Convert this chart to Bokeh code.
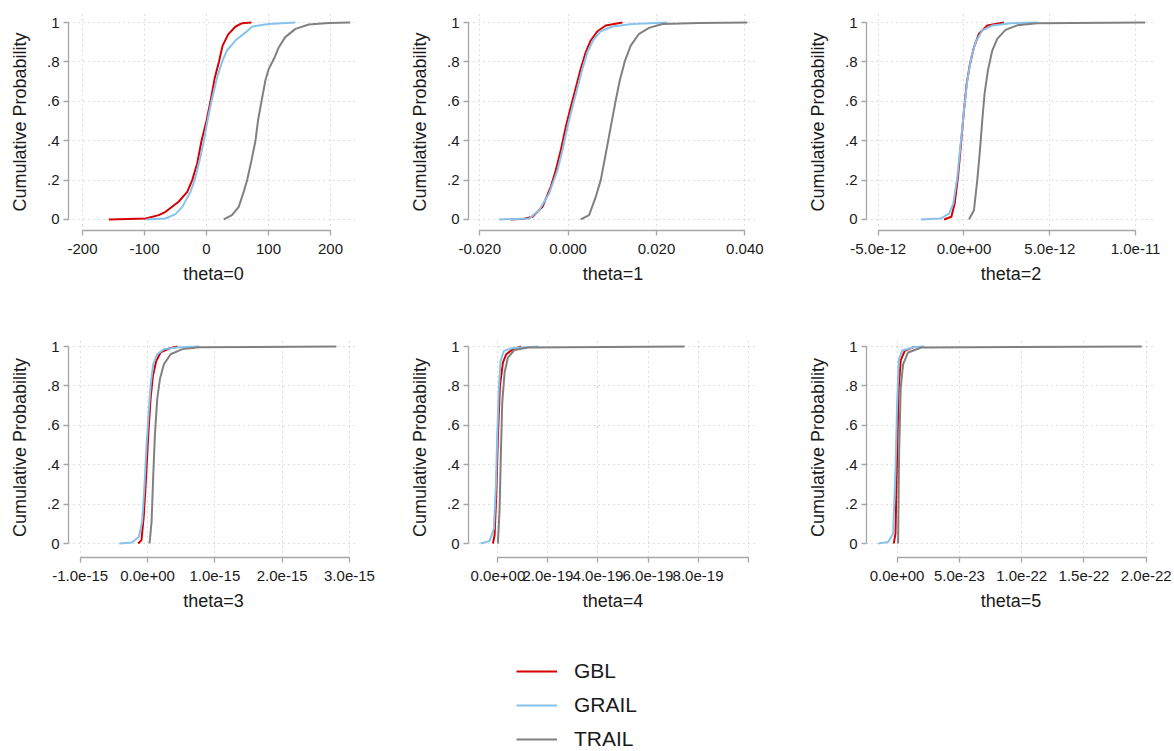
from bokeh.plotting import figure
from bokeh.models import Range1d, FixedTicker, Legend, LegendItem
from bokeh.layouts import column, row
from bokeh.embed import file_html
from bokeh.resources import INLINE

# ---------------- data ----------------
series_names = ["GBL", "GRAIL", "TRAIL"]
panel_titles = ["theta=0", "theta=1", "theta=2", "theta=3", "theta=4", "theta=5"]

# theta=0
gbl_x0 = [-157.5, -98, -77, -66, -45, -31, -23, -15, -8, 0, 6.5, 13.4, 20, 26, 35, 47, 57.5, 72.6]
gbl_p0 = [0, 0.005, 0.022, 0.039, 0.09, 0.14, 0.2, 0.284, 0.4, 0.5, 0.6, 0.72, 0.8, 0.883, 0.94, 0.98, 0.997, 1]
grail_x0 = [-97, -66, -50, -39, -26, -19, -9.7, -4.3, 2.7, 8, 17, 25, 33, 47, 63, 74, 100, 143.5]
grail_p0 = [0, 0.005, 0.027, 0.064, 0.14, 0.2, 0.318, 0.4, 0.52, 0.6, 0.72, 0.8, 0.858, 0.91, 0.95, 0.98, 0.993, 1]
trail_x0 = [28, 41, 52, 60, 65.6, 72.6, 79, 83, 88.7, 95, 100.5, 110, 116.7, 127, 143.5, 165, 197, 232]
trail_p0 = [0, 0.022, 0.064, 0.14, 0.2, 0.3, 0.4, 0.5, 0.6, 0.706, 0.765, 0.824, 0.875, 0.926, 0.968, 0.99, 0.998, 1]

# theta=1
gbl_x1 = [-0.013, -0.00995, -0.00807, -0.0058, -0.00392, -0.00279, -0.00166, -0.00053, 0.0006, 0.00158,
          0.00286, 0.004, 0.00513, 0.00663, 0.00852, 0.01229]
gbl_p1 = [0, 0.004, 0.014, 0.064, 0.166, 0.25, 0.351, 0.47, 0.571, 0.655, 0.765, 0.85, 0.909, 0.956, 0.985, 1]
grail_x1 = [-0.0156, -0.00882, -0.00656, -0.0043, -0.00241, -0.00128, -0.00015, 0.00098, 0.00196, 0.00324,
            0.00437, 0.00565, 0.00739, 0.01003, 0.01455, 0.02247]
grail_p1 = [0, 0.005, 0.047, 0.132, 0.25, 0.351, 0.47, 0.571, 0.655, 0.765, 0.85, 0.909, 0.956, 0.98, 0.993, 1]
trail_x1 = [0.00286, 0.00475, 0.00626, 0.00739, 0.00852, 0.00965, 0.01078, 0.01169, 0.01289, 0.01417,
            0.01606, 0.01832, 0.02134, 0.02963, 0.04056]
trail_p1 = [0, 0.022, 0.115, 0.2, 0.334, 0.47, 0.605, 0.706, 0.807, 0.883, 0.943, 0.973, 0.993, 0.998, 1]

# theta=2
gbl_x2 = [-1.163e-12, -0.736e-12, -0.543e-12, -0.349e-12, -0.155e-12, 0, 0.155e-12, 0.349e-12,
          0.581e-12, 0.872e-12, 1.357e-12, 2.326e-12]
gbl_p2 = [0, 0.014, 0.081, 0.216, 0.402, 0.554, 0.689, 0.79, 0.875, 0.943, 0.985, 1]
grail_x2 = [-2.52e-12, -1.357e-12, -0.872e-12, -0.62e-12, -0.388e-12, -0.174e-12, 0, 0.194e-12,
            0.426e-12, 0.678e-12, 1.066e-12, 1.647e-12, 2.713e-12, 4.26e-12]
grail_p2 = [0, 0.005, 0.03, 0.081, 0.216, 0.402, 0.554, 0.706, 0.824, 0.9, 0.96, 0.985, 0.997, 1]
trail_x2 = [0.29e-12, 0.581e-12, 0.775e-12, 0.93e-12, 1.066e-12, 1.2e-12, 1.395e-12, 1.647e-12,
            1.938e-12, 2.42e-12, 3.1e-12, 4.26e-12, 10.56e-12]
trail_p2 = [0, 0.047, 0.2, 0.351, 0.503, 0.639, 0.757, 0.858, 0.917, 0.963, 0.986, 0.997, 1]

# theta=3
gbl_x3 = [-0.139e-15, -0.09e-15, -0.055e-15, -0.02e-15, 0.01e-15, 0.045e-15, 0.08e-15, 0.129e-15,
          0.194e-15, 0.318e-15, 0.443e-15]
gbl_p3 = [0, 0.017, 0.143, 0.346, 0.548, 0.734, 0.852, 0.927, 0.97, 0.99, 1]
grail_x3 = [-0.418e-15, -0.229e-15, -0.129e-15, -0.08e-15, -0.045e-15, -0.015e-15, 0.02e-15, 0.05e-15,
            0.085e-15, 0.144e-15, 0.244e-15, 0.468e-15, 0.766e-15]
grail_p3 = [0, 0.005, 0.034, 0.11, 0.295, 0.497, 0.683, 0.818, 0.911, 0.961, 0.987, 0.997, 1]
trail_x3 = [0.03e-15, 0.06e-15, 0.085e-15, 0.109e-15, 0.144e-15, 0.184e-15, 0.244e-15, 0.343e-15,
            0.517e-15, 0.766e-15, 2.806e-15]
trail_p3 = [0, 0.11, 0.346, 0.548, 0.734, 0.835, 0.911, 0.961, 0.987, 0.997, 1]

# theta=4
gbl_x4 = [-0.2e-19, -0.133e-19, -0.067e-19, 0, 0.08e-19, 0.2e-19, 0.333e-19, 0.6e-19, 0.933e-19]
gbl_p4 = [0, 0.042, 0.245, 0.548, 0.8, 0.919, 0.961, 0.987, 1]
grail_x4 = [-0.693e-19, -0.333e-19, -0.16e-19, -0.08e-19, -0.027e-19, 0.04e-19, 0.107e-19, 0.24e-19,
            0.6e-19, 1.6e-19]
grail_p4 = [0, 0.012, 0.076, 0.295, 0.548, 0.8, 0.927, 0.978, 0.993, 1]
trail_x4 = [0, 0.067e-19, 0.12e-19, 0.173e-19, 0.267e-19, 0.4e-19, 0.667e-19, 1.2e-19, 7.46e-19]
trail_p4 = [0, 0.177, 0.464, 0.717, 0.868, 0.944, 0.983, 0.995, 1]

# theta=5
gbl_x5 = [-0.27e-23, -0.13e-23, 0, 0.13e-23, 0.29e-23, 0.61e-23, 1.41e-23]
gbl_p5 = [0, 0.05, 0.455, 0.792, 0.93, 0.978, 1]
grail_x5 = [-1.52e-23, -0.72e-23, -0.32e-23, -0.13e-23, 0, 0.13e-23, 0.4e-23, 1.41e-23, 2.2e-23]
grail_p5 = [0, 0.008, 0.05, 0.37, 0.708, 0.93, 0.98, 0.998, 1]
trail_x5 = [0.08e-23, 0.16e-23, 0.29e-23, 0.48e-23, 0.88e-23, 1.95e-23, 19.63e-23]
trail_p5 = [0, 0.455, 0.79, 0.91, 0.97, 0.995, 1]

# axis ticks and labels
y_ticks = [0, 0.2, 0.4, 0.6, 0.8, 1]
y_labels = ["0", ".2", ".4", ".6", ".8", "1"]
x_ticks0 = [-200, -100, 0, 100, 200]
x_labels0 = ["-200", "-100", "0", "100", "200"]
x_ticks1 = [-0.02, 0, 0.02, 0.04]
x_labels1 = ["-0.020", "0.000", "0.020", "0.040"]
x_ticks2 = [-5e-12, 0, 5e-12, 1e-11]
x_labels2 = ["-5.0e-12", "0.0e+00", "5.0e-12", "1.0e-11"]
x_ticks3 = [-1e-15, 0, 1e-15, 2e-15, 3e-15]
x_labels3 = ["-1.0e-15", "0.0e+00", "1.0e-15", "2.0e-15", "3.0e-15"]
x_ticks4 = [0, 2e-19, 4e-19, 6e-19, 8e-19, 1e-18]
x_labels4 = ["0.0e+00", "2.0e-19", "4.0e-19", "6.0e-19", "8.0e-19", ""]
x_ticks5 = [0, 5e-23, 1e-22, 1.5e-22, 2e-22]
x_labels5 = ["0.0e+00", "5.0e-23", "1.0e-22", "1.5e-22", "2.0e-22"]

# ---------------- styling ----------------
FONT = "Liberation Sans"
COLORS = ["#d60000", "#86c2ec", "#808080"]
AXIS_COLOR = "#a6a6a6"
TEXT_COLOR = "#1a1a1a"

panels = [
    (gbl_x0, gbl_p0, grail_x0, grail_p0, trail_x0, trail_p0, x_ticks0, x_labels0, (-222.6, 245.2)),
    (gbl_x1, gbl_p1, grail_x1, grail_p1, trail_x1, trail_p1, x_ticks1, x_labels1, (-0.02255, 0.04287)),
    (gbl_x2, gbl_p2, grail_x2, grail_p2, trail_x2, trail_p2, x_ticks2, x_labels2, (-5.68e-12, 1.116e-11)),
    (gbl_x3, gbl_p3, grail_x3, grail_p3, trail_x3, trail_p3, x_ticks3, x_labels3, (-1.174e-15, 3.134e-15)),
    (gbl_x4, gbl_p4, grail_x4, grail_p4, trail_x4, trail_p4, x_ticks4, x_labels4, (-1.176e-19, 1.0376e-18)),
    (gbl_x5, gbl_p5, grail_x5, grail_p5, trail_x5, trail_p5, x_ticks5, x_labels5, (-2.456e-23, 2.074e-22)),
]

col_geom = [(406, 68, 48), (398, 61, 47), (370, 61, 19)]      # width, border left, border right
row_geom = [(300, 13, 70, (-0.056, 1.046)), (320, 37, 63, (-0.071, 1.046))]  # height, top, bottom, y range


def style_axis(ax, label_standoff, title_standoff):
    ax.axis_line_color = AXIS_COLOR
    ax.axis_line_width = 1.3
    ax.major_tick_line_color = AXIS_COLOR
    ax.major_tick_line_width = 1.3
    ax.major_tick_out = 5
    ax.major_tick_in = 0
    ax.minor_tick_line_color = None
    ax.major_label_text_font = FONT
    ax.major_label_text_font_size = "15px"
    ax.major_label_text_color = TEXT_COLOR
    ax.major_label_standoff = label_standoff
    ax.axis_label_text_font = FONT
    ax.axis_label_text_font_size = "18px"
    ax.axis_label_text_font_style = "normal"
    ax.axis_label_text_color = TEXT_COLOR
    ax.axis_label_standoff = title_standoff


figs = []
for i, (gx, gp, rx, rp, tx, tp, xt, xl, xr) in enumerate(panels):
    r_i, c_i = divmod(i, 3)
    w, bl, br = col_geom[c_i]
    h, bt, bb, yr = row_geom[r_i]
    p = figure(width=w, height=h, output_backend="svg", toolbar_location=None,
               x_range=Range1d(*xr), y_range=Range1d(*yr),
               min_border_left=bl, min_border_right=br, min_border_top=bt, min_border_bottom=bb)
    p.outline_line_color = None
    p.background_fill_color = "white"
    p.border_fill_color = "white"

    for xs, ps, col in ((gx, gp, COLORS[0]), (rx, rp, COLORS[1]), (tx, tp, COLORS[2])):
        p.line(xs, ps, line_color=col, line_width=2)

    xa = p.xaxis[0]
    ya = p.yaxis[0]
    xa.ticker = FixedTicker(ticks=xt)
    xa.major_label_overrides = {t: l for t, l in zip(xt, xl)}
    xa.bounds = (xt[0], xt[-1])
    xa.axis_label = panel_titles[i]
    style_axis(xa, 8, 7)

    ya.ticker = FixedTicker(ticks=y_ticks)
    ya.major_label_overrides = {t: l for t, l in zip(y_ticks, y_labels)}
    ya.bounds = (0, 1)
    ya.axis_label = "Cumulative Probability"
    style_axis(ya, 4, 14)

    for g in (p.xgrid[0], p.ygrid[0]):
        g.grid_line_color = "#bdbdbd"
        g.grid_line_dash = "1 4"
        g.grid_line_width = 1
    figs.append(p)

# ---------------- legend figure ----------------
lf = figure(width=1174, height=131, output_backend="svg", toolbar_location=None,
            x_range=Range1d(0, 1), y_range=Range1d(0, 1),
            x_axis_location=None, y_axis_location=None,
            min_border_left=0, min_border_right=0, min_border_top=0, min_border_bottom=0)
lf.outline_line_color = None
lf.xgrid.visible = False
lf.ygrid.visible = False
items = []
nan = float("nan")
for name, col in zip(series_names, COLORS):
    rr = lf.line([nan], [nan], line_color=col, line_width=2)
    items.append(LegendItem(label=name, renderers=[rr]))
legend = Legend(items=items, location=(516, 0), orientation="vertical",
                glyph_width=41, glyph_height=24, label_height=24, label_standoff=17,
                spacing=10, padding=0, margin=0,
                border_line_color=None, background_fill_alpha=0,
                label_text_font=FONT, label_text_font_size="21px", label_text_color=TEXT_COLOR)
lf.add_layout(legend, "center")

layout = column(row(*figs[:3]), row(*figs[3:]), lf)

with open("out.html", "w") as f:
    f.write(file_html(layout, INLINE))
